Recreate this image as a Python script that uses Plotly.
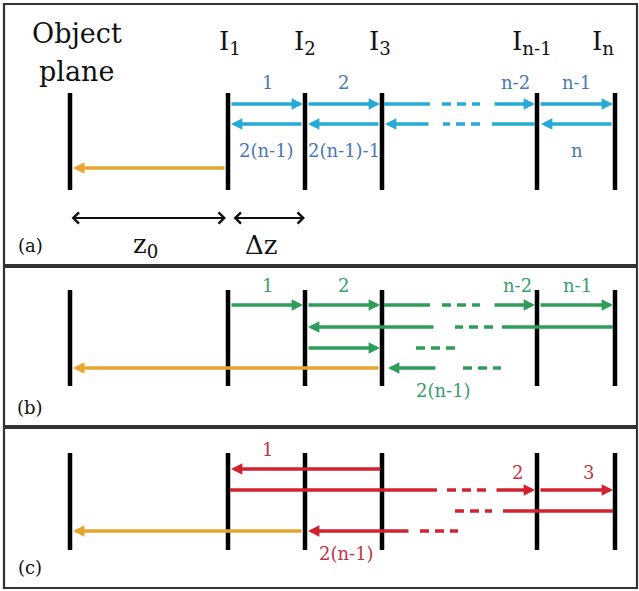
import plotly.graph_objects as go

W, H = 639, 591

# Plane positions (object plane, I1, I2, I3, In-1, In)
planes_x = [70, 228, 305, 382, 537, 615]
# Vertical extent of planes for each panel (a, b, c)
plane_spans = [(93, 190), (290, 386), (453, 550)]
# Panel boxes (top, bottom)
panel_boxes = [(4, 265), (267, 426), (428, 588)]
panel_tags = ["(a)", "(b)", "(c)"]
panel_tag_y = [245, 407, 567]

BLUE, BLUE_TXT = "#28aad6", "#4a78b5"
GREEN, GREEN_TXT = "#2f9c5a", "#3b9c6e"
RED, RED_TXT = "#d3222f", "#c0344a"
ORANGE = "#e8a52d"

# Propagation segments: (x_start, x_end, y, kind) with kind arrow / line / dash
blue_segments = [
    (230, 303, 104, "arrow"), (307, 380, 104, "arrow"), (384, 430, 104, "line"),
    (442, 480, 104, "dash"), (493, 535, 104, "arrow"), (539, 613, 104, "arrow"),
    (613, 541, 124, "arrow"), (535, 492, 124, "line"), (480, 443, 124, "dash"),
    (430, 385, 124, "arrow"), (380, 308, 124, "arrow"), (303, 231, 124, "arrow"),
]
green_segments = [
    (230, 303, 305, "arrow"), (307, 380, 305, "arrow"), (384, 430, 305, "line"),
    (442, 480, 305, "dash"), (493, 535, 305, "arrow"), (539, 613, 305, "arrow"),
    (613, 502, 327, "line"), (493, 455, 327, "dash"), (435, 308, 327, "arrow"),
    (307, 380, 348, "arrow"), (416, 455, 348, "dash"),
    (437, 388, 368, "arrow"), (463, 501, 368, "dash"),
]
red_segments = [
    (382, 231, 469, "arrow"),
    (230, 437, 490, "line"), (447, 487, 490, "dash"), (495, 535, 490, "arrow"),
    (539, 613, 490, "arrow"),
    (613, 503, 511, "line"), (455, 492, 511, "dash"),
    (410, 308, 531, "arrow"), (420, 458, 531, "dash"),
]
orange_segments = [
    (226, 73, 168, "arrow"), (380, 73, 368, "arrow"), (303, 73, 531, "arrow"),
]

# Text labels: (text, x, y)
blue_labels = [("1", 267, 82), ("2", 343, 82), ("n-2", 515, 82), ("n-1", 576, 82),
               ("2(n-1)", 266, 150), ("2(n-1)-1", 344, 150), ("n", 577, 150)]
green_labels = [("1", 267, 285), ("2", 343, 285), ("n-2", 517, 285), ("n-1", 577, 285),
                ("2(n-1)", 443, 390)]
red_labels = [("1", 267, 449), ("2", 517, 472), ("3", 588, 472), ("2(n-1)", 346, 553)]
plane_names = [("I<sub>1</sub>", 230), ("I<sub>2</sub>", 305), ("I<sub>3</sub>", 380),
               ("I<sub>n-1</sub>", 532), ("I<sub>n</sub>", 603)]

# Distance markers in panel (a): (x_start, x_end, label, label_x)
distances = [(70, 226, "z<sub>0</sub>", 145), (232, 305, "Δz", 261)]
dist_y = 218

FONT = "DejaVu Serif"

shapes = []
annotations = []

# Panel frames
for top, bottom in panel_boxes:
    shapes.append(dict(type="rect", x0=4, x1=637, y0=top, y1=bottom,
                       line=dict(color="#333333", width=2.2)))

# Planes
for y0, y1 in plane_spans:
    for px in planes_x:
        shapes.append(dict(type="line", x0=px, x1=px, y0=y0, y1=y1,
                           line=dict(color="black", width=4.5)))


def add_segments(segs, color):
    for xs, xe, y, kind in segs:
        if kind == "arrow":
            annotations.append(dict(
                x=xe, y=y, ax=xs, ay=y, xref="x", yref="y", axref="x", ayref="y",
                text="", showarrow=True, arrowhead=2, arrowsize=0.65,
                arrowwidth=3.5, arrowcolor=color, standoff=0, startstandoff=0))
        else:
            shapes.append(dict(
                type="line", x0=xs, x1=xe, y0=y, y1=y,
                line=dict(color=color, width=3.5,
                          dash="9px,6px" if kind == "dash" else "solid")))


add_segments(orange_segments, ORANGE)
add_segments(blue_segments, BLUE)
add_segments(green_segments, GREEN)
add_segments(red_segments, RED)


def add_text(text, x, y, size, color):
    annotations.append(dict(x=x, y=y, xref="x", yref="y", text=text, showarrow=False,
                            xanchor="center", yanchor="middle",
                            font=dict(family=FONT, size=size, color=color)))


for t, x, y in blue_labels:
    add_text(t, x, y, 18, BLUE_TXT)
for t, x, y in green_labels:
    add_text(t, x, y, 18, GREEN_TXT)
for t, x, y in red_labels:
    add_text(t, x, y, 18, RED_TXT)

for t, x in plane_names:
    add_text(t, x, 42, 26, "#111111")

add_text("Object", 77, 33, 27, "#111111")
add_text("plane", 76, 71, 27, "#111111")

for tag, ty in zip(panel_tags, panel_tag_y):
    add_text(tag, 30, ty, 18, "#111111")

# Distance arrows
for xs, xe, lab, lx in distances:
    annotations.append(dict(
        x=xe, y=dist_y, ax=xs, ay=dist_y, xref="x", yref="y", axref="x", ayref="y",
        text="", showarrow=True, arrowhead=4, arrowside="end+start", arrowsize=1.1,
        arrowwidth=2, arrowcolor="#111111", standoff=0, startstandoff=0))
    add_text(lab, lx, 245, 26, "#111111")

fig = go.Figure()
fig.update_layout(
    width=W, height=H, margin=dict(l=0, r=0, t=0, b=0),
    paper_bgcolor="white", plot_bgcolor="white",
    xaxis=dict(range=[0, W], visible=False, fixedrange=True),
    yaxis=dict(range=[H, 0], visible=False, fixedrange=True),
    shapes=shapes, annotations=annotations, showlegend=False,
)
fig.write_html("out.html")
